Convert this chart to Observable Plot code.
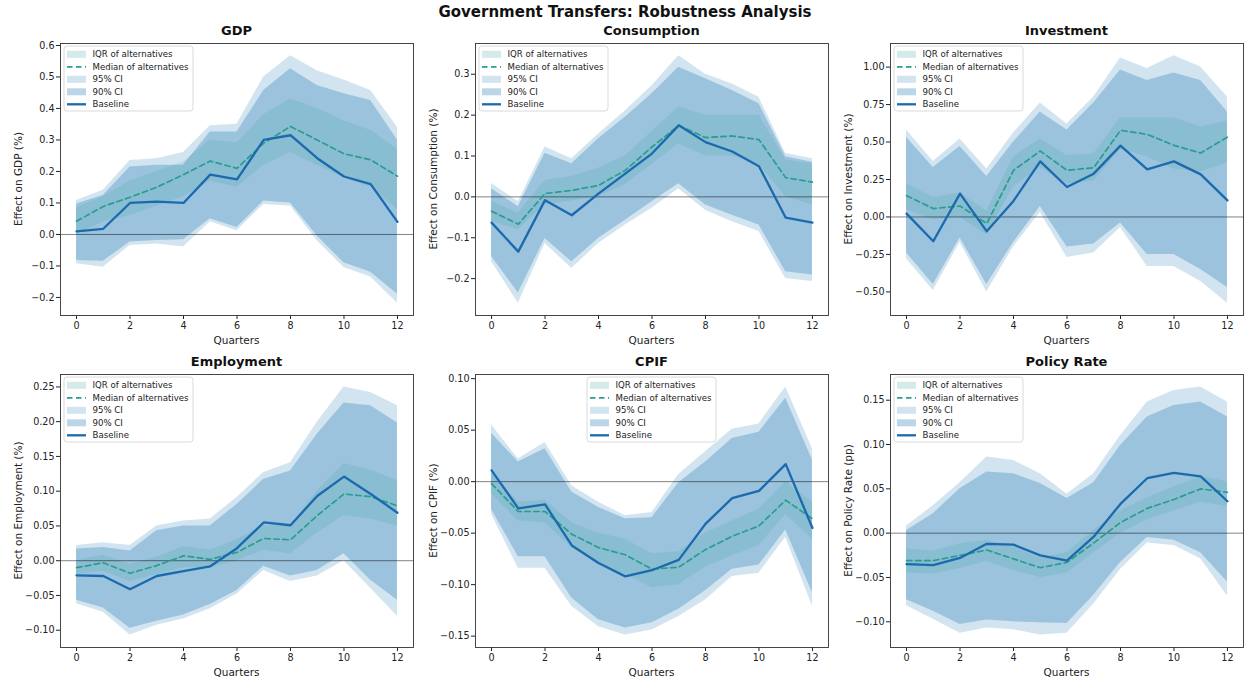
<!DOCTYPE html>
<html>
<head>
<meta charset="utf-8">
<script src="https://cdn.jsdelivr.net/npm/d3@7"></script>
<script src="https://cdn.jsdelivr.net/npm/@observablehq/plot@0.6"></script>
<style>
  body { margin: 0; background: #fff; font-family: "DejaVu Sans", sans-serif; }
  #fig { position: relative; width: 1245px; height: 680px; overflow: hidden; background: #fff; }
  #suptitle { position: absolute; left: 0; top: 3px; width: 1250px; text-align: center;
              font: bold 15px "DejaVu Sans", sans-serif; line-height: 18px; color: #111; }
  .panel { position: absolute; }
  .panel svg { overflow: visible; }
</style>
</head>
<body>
<div id="fig"><div id="suptitle">Government Transfers: Robustness Analysis</div></div>
<script>
// Impulse responses to a government-transfer shock, quarters 0..12
const quarters = [0, 1, 2, 3, 4, 5, 6, 7, 8, 9, 10, 11, 12];
const panelTitles = ["GDP", "Consumption", "Investment", "Employment", "CPIF", "Policy Rate"];
const yLabels = ["Effect on GDP (%)", "Effect on Consumption (%)", "Effect on Investment (%)",
                 "Effect on Employment (%)", "Effect on CPIF (%)", "Effect on Policy Rate (pp)"];
const legendLabels = ["IQR of alternatives", "Median of alternatives", "95% CI", "90% CI", "Baseline"];
const xTicks = [0, 2, 4, 6, 8, 10, 12];
const yTicks = [
  [-0.2, -0.1, 0.0, 0.1, 0.2, 0.3, 0.4, 0.5, 0.6],
  [-0.2, -0.1, 0.0, 0.1, 0.2, 0.3],
  [-0.5, -0.25, 0.0, 0.25, 0.5, 0.75, 1.0],
  [-0.10, -0.05, 0.0, 0.05, 0.10, 0.15, 0.20, 0.25],
  [-0.15, -0.10, -0.05, 0.0, 0.05, 0.10],
  [-0.10, -0.05, 0.0, 0.05, 0.10, 0.15]
];
const yTickFormats = [".1f", ".1f", ".2f", ".2f", ".2f", ".2f"];

// Baseline point estimate (one row per panel)
const baseline = [
  [0.01, 0.018, 0.10, 0.104, 0.10, 0.19, 0.175, 0.30, 0.315, 0.242, 0.184, 0.16, 0.04],
  [-0.063, -0.134, -0.008, -0.045, 0.008, 0.057, 0.106, 0.175, 0.134, 0.111, 0.075, -0.051, -0.063],
  [0.022, -0.162, 0.156, -0.096, 0.107, 0.371, 0.2, 0.289, 0.476, 0.318, 0.371, 0.284, 0.111],
  [-0.021, -0.022, -0.041, -0.022, -0.015, -0.008, 0.018, 0.055, 0.051, 0.093, 0.121, 0.096, 0.069],
  [0.011, -0.026, -0.022, -0.062, -0.079, -0.092, -0.086, -0.076, -0.041, -0.016, -0.009, 0.017, -0.045],
  [-0.035, -0.036, -0.028, -0.012, -0.013, -0.025, -0.031, -0.004, 0.033, 0.062, 0.068, 0.064, 0.036]
];
// Median across alternative specifications
const median = [
  [0.042, 0.089, 0.118, 0.15, 0.19, 0.233, 0.21, 0.29, 0.343, 0.30, 0.256, 0.237, 0.185],
  [-0.035, -0.067, 0.008, 0.016, 0.028, 0.065, 0.122, 0.175, 0.145, 0.149, 0.14, 0.047, 0.036],
  [0.142, 0.056, 0.073, -0.044, 0.311, 0.44, 0.311, 0.329, 0.578, 0.551, 0.478, 0.427, 0.533],
  [-0.01, -0.003, -0.018, -0.007, 0.007, 0.002, 0.012, 0.032, 0.03, 0.065, 0.096, 0.092, 0.079],
  [-0.002, -0.029, -0.029, -0.051, -0.064, -0.071, -0.085, -0.083, -0.066, -0.053, -0.043, -0.018, -0.036],
  [-0.031, -0.031, -0.025, -0.019, -0.029, -0.039, -0.033, -0.011, 0.012, 0.028, 0.038, 0.05, 0.046]
];
// Interquartile range across alternatives
const iqrLow = [
  [0.0, 0.04, 0.06, 0.09, 0.12, 0.17, 0.15, 0.22, 0.26, 0.22, 0.18, 0.15, 0.08],
  [-0.06, -0.08, -0.02, -0.01, 0.0, 0.03, 0.08, 0.13, 0.1, 0.1, 0.08, 0.0, -0.02],
  [0.05, -0.02, 0.0, -0.12, 0.2, 0.33, 0.22, 0.24, 0.45, 0.4, 0.32, 0.3, 0.36],
  [-0.02, -0.015, -0.03, -0.02, -0.01, -0.01, 0.0, 0.015, 0.01, 0.04, 0.065, 0.06, 0.05],
  [-0.012, -0.038, -0.04, -0.064, -0.08, -0.09, -0.103, -0.1, -0.083, -0.072, -0.062, -0.032, -0.056],
  [-0.045, -0.046, -0.04, -0.032, -0.042, -0.05, -0.045, -0.022, 0.0, 0.015, 0.025, 0.035, 0.03]
];
const iqrHigh = [
  [0.085, 0.12, 0.17, 0.2, 0.23, 0.3, 0.29, 0.38, 0.43, 0.4, 0.36, 0.33, 0.27],
  [-0.01, -0.04, 0.04, 0.05, 0.07, 0.1, 0.16, 0.22, 0.2, 0.2, 0.2, 0.09, 0.08],
  [0.22, 0.13, 0.16, 0.04, 0.4, 0.52, 0.41, 0.42, 0.66, 0.66, 0.66, 0.6, 0.64],
  [0.0, 0.008, -0.005, 0.005, 0.02, 0.015, 0.03, 0.05, 0.05, 0.1, 0.14, 0.13, 0.115],
  [0.008, -0.02, -0.018, -0.04, -0.05, -0.056, -0.07, -0.068, -0.05, -0.038, -0.027, 0.0, -0.02],
  [-0.018, -0.02, -0.012, -0.008, -0.016, -0.028, -0.022, 0.003, 0.025, 0.04, 0.052, 0.064, 0.058]
];
// 90% confidence band around the baseline
const ci90Low = [
  [-0.083, -0.085, -0.024, -0.019, -0.017, 0.05, 0.022, 0.106, 0.1, -0.005, -0.09, -0.12, -0.19],
  [-0.146, -0.235, -0.102, -0.159, -0.102, -0.057, -0.012, 0.032, -0.02, -0.045, -0.069, -0.183, -0.191],
  [-0.24, -0.45, -0.14, -0.45, -0.17, 0.07, -0.2, -0.18, -0.04, -0.25, -0.25, -0.35, -0.47],
  [-0.057, -0.068, -0.097, -0.087, -0.078, -0.063, -0.043, -0.008, -0.022, -0.014, 0.01, -0.028, -0.057],
  [-0.027, -0.073, -0.073, -0.113, -0.134, -0.142, -0.137, -0.124, -0.106, -0.085, -0.081, -0.047, -0.108],
  [-0.075, -0.088, -0.103, -0.098, -0.1, -0.101, -0.102, -0.07, -0.033, -0.005, -0.008, -0.022, -0.055]
];
const ci90High = [
  [0.097, 0.124, 0.214, 0.22, 0.22, 0.325, 0.325, 0.457, 0.526, 0.473, 0.447, 0.425, 0.30],
  [0.02, -0.024, 0.107, 0.081, 0.142, 0.195, 0.252, 0.317, 0.289, 0.26, 0.228, 0.098, 0.085],
  [0.53, 0.33, 0.47, 0.27, 0.5, 0.7, 0.58, 0.76, 0.98, 0.91, 0.96, 0.91, 0.7],
  [0.017, 0.019, 0.014, 0.043, 0.05, 0.05, 0.081, 0.117, 0.129, 0.182, 0.227, 0.223, 0.198],
  [0.047, 0.019, 0.032, -0.01, -0.025, -0.036, -0.035, -0.001, 0.019, 0.042, 0.048, 0.081, 0.021],
  [0.003, 0.022, 0.05, 0.069, 0.067, 0.056, 0.039, 0.057, 0.099, 0.131, 0.144, 0.148, 0.131]
];
// 95% confidence band around the baseline
const ci95Low = [
  [-0.093, -0.104, -0.035, -0.03, -0.04, 0.04, 0.012, 0.095, 0.09, -0.02, -0.105, -0.135, -0.218],
  [-0.159, -0.26, -0.114, -0.175, -0.114, -0.069, -0.028, 0.02, -0.033, -0.061, -0.085, -0.2, -0.207],
  [-0.28, -0.49, -0.17, -0.5, -0.2, 0.03, -0.27, -0.24, -0.07, -0.33, -0.33, -0.43, -0.575],
  [-0.062, -0.074, -0.107, -0.093, -0.084, -0.069, -0.048, -0.014, -0.03, -0.022, 0.0, -0.04, -0.08],
  [-0.032, -0.084, -0.084, -0.121, -0.141, -0.149, -0.144, -0.131, -0.115, -0.092, -0.089, -0.054, -0.121],
  [-0.082, -0.097, -0.113, -0.107, -0.109, -0.115, -0.113, -0.08, -0.041, -0.011, -0.014, -0.029, -0.071]
];
const ci95High = [
  [0.108, 0.14, 0.235, 0.24, 0.26, 0.345, 0.35, 0.5, 0.567, 0.52, 0.49, 0.457, 0.34],
  [0.033, -0.012, 0.122, 0.093, 0.154, 0.21, 0.272, 0.345, 0.30, 0.276, 0.244, 0.106, 0.093],
  [0.58, 0.37, 0.52, 0.32, 0.56, 0.76, 0.62, 0.8, 1.06, 0.99, 1.075, 1.0, 0.8],
  [0.022, 0.026, 0.022, 0.05, 0.057, 0.06, 0.091, 0.127, 0.141, 0.199, 0.25, 0.242, 0.223],
  [0.055, 0.022, 0.038, -0.004, -0.02, -0.033, -0.03, 0.007, 0.029, 0.051, 0.056, 0.092, 0.032],
  [0.008, 0.031, 0.057, 0.086, 0.082, 0.067, 0.044, 0.067, 0.11, 0.148, 0.161, 0.165, 0.148]
];

// Colours
const BLUE = "#1f77b4";
const LINE_BLUE = "#1b6aae";
const TEAL = "#2a9d8f";

// Grid layout (pixels)
const PANEL_W = 415;
const colLeft = [0, 415, 830];
const rowTop = [20, 345];
const rowHeight = [325, 335];
const rowMarginTop = [23, 29];
const rowMarginBottom = [30, 33];
const MARGIN_L = 60, MARGIN_R = 2;

const fig = document.getElementById("fig");

panelTitles.forEach((title, i) => {
  const col = i % 3, row = Math.floor(i / 3);
  const rows = quarters.map((q, k) => ({
    q,
    base: baseline[i][k], med: median[i][k],
    iqrLo: iqrLow[i][k], iqrHi: iqrHigh[i][k],
    lo90: ci90Low[i][k], hi90: ci90High[i][k],
    lo95: ci95Low[i][k], hi95: ci95High[i][k]
  }));
  // autoscale with a 5% margin on each side
  const all = rows.flatMap(d => [d.base, d.med, d.iqrLo, d.iqrHi, d.lo90, d.hi90, d.lo95, d.hi95]);
  const [mn, mx] = d3.extent(all);
  const pad = (mx - mn) * 0.05;
  const xPad = (quarters[quarters.length - 1] - quarters[0]) * 0.05;

  const H = rowHeight[row], mt = rowMarginTop[row], mb = rowMarginBottom[row];
  const svg = Plot.plot({
    width: PANEL_W,
    height: H,
    marginLeft: MARGIN_L,
    marginRight: MARGIN_R,
    marginTop: mt,
    marginBottom: mb,
    style: { fontFamily: "DejaVu Sans", fontSize: "9.6px", color: "#222", background: "transparent" },
    x: { domain: [quarters[0] - xPad, quarters[quarters.length - 1] + xPad], ticks: xTicks,
         tickFormat: d3.format("d"), tickSize: 4, tickPadding: 3, label: null },
    y: { domain: [mn - pad, mx + pad], ticks: yTicks[i], tickFormat: d3.format(yTickFormats[i]),
         tickSize: 4, tickPadding: 2, label: null },
    marks: [
      Plot.areaY(rows, { x: "q", y1: "lo95", y2: "hi95", fill: BLUE, fillOpacity: 0.2 }),
      Plot.areaY(rows, { x: "q", y1: "lo90", y2: "hi90", fill: BLUE, fillOpacity: 0.3 }),
      Plot.areaY(rows, { x: "q", y1: "iqrLo", y2: "iqrHi", fill: TEAL, fillOpacity: 0.15 }),
      Plot.ruleY([0], { stroke: "#000", strokeOpacity: 0.55, strokeWidth: 0.9 }),
      Plot.lineY(rows, { x: "q", y: "med", stroke: TEAL, strokeWidth: 1.7, strokeDasharray: "5.5,3.5" }),
      Plot.lineY(rows, { x: "q", y: "base", stroke: LINE_BLUE, strokeWidth: 2.3 }),
      Plot.frame({ stroke: "#333", strokeWidth: 0.9 })
    ]
  });

  const s = d3.select(svg);
  const frameW = PANEL_W - MARGIN_L - MARGIN_R;
  const frameH = H - mt - mb;
  const cx = MARGIN_L + frameW / 2;

  // panel title
  s.append("text")
    .attr("x", cx).attr("y", mt - 12.5)
    .attr("text-anchor", "middle").attr("dominant-baseline", "central")
    .attr("font-family", "DejaVu Sans").attr("font-weight", "bold").attr("font-size", 13)
    .attr("fill", "#111").text(title);

  // axis labels
  s.append("text")
    .attr("x", cx).attr("y", H - mb + 24.5)
    .attr("text-anchor", "middle").attr("dominant-baseline", "central")
    .attr("font-family", "DejaVu Sans").attr("font-size", 10.5).attr("fill", "#222")
    .text("Quarters");
  s.append("text")
    .attr("transform", `translate(18,${mt + frameH / 2}) rotate(-90)`)
    .attr("text-anchor", "middle").attr("dominant-baseline", "central")
    .attr("font-family", "DejaVu Sans").attr("font-size", 10.5).attr("fill", "#222")
    .text(yLabels[i]);

  // legend: upper left, except CPIF which sits upper centre
  const LW = 129, LH = 65;
  const lx = title === "CPIF" ? cx - LW / 2 : MARGIN_L + 4;
  const ly = mt + 3;
  const g = s.append("g").attr("transform", `translate(${lx},${ly})`).attr("text-anchor", "start");
  g.append("rect").attr("width", LW).attr("height", LH).attr("rx", 3)
    .attr("fill", "#fff").attr("fill-opacity", 0.8).attr("stroke", "#d0d0d0").attr("stroke-width", 0.8);
  legendLabels.forEach((lab, r) => {
    const y = 8.3 + r * 12.5;
    if (r === 0) {
      g.append("rect").attr("x", 3).attr("y", y - 3.5).attr("width", 19).attr("height", 7)
        .attr("fill", TEAL).attr("fill-opacity", 0.2);
    } else if (r === 1) {
      g.append("line").attr("x1", 3).attr("x2", 22).attr("y1", y).attr("y2", y)
        .attr("stroke", TEAL).attr("stroke-width", 1.7).attr("stroke-dasharray", "5.5,3.5");
    } else if (r === 2) {
      g.append("rect").attr("x", 3).attr("y", y - 3.5).attr("width", 19).attr("height", 7)
        .attr("fill", BLUE).attr("fill-opacity", 0.2);
    } else if (r === 3) {
      g.append("rect").attr("x", 3).attr("y", y - 3.5).attr("width", 19).attr("height", 7)
        .attr("fill", BLUE).attr("fill-opacity", 0.3);
    } else {
      g.append("line").attr("x1", 3).attr("x2", 22).attr("y1", y).attr("y2", y)
        .attr("stroke", LINE_BLUE).attr("stroke-width", 2.3);
    }
    g.append("text").attr("x", 28.5).attr("y", y)
      .attr("text-anchor", "start").attr("dominant-baseline", "central")
      .attr("font-family", "DejaVu Sans").attr("font-size", 8.6).attr("fill", "#222")
      .text(lab);
  });

  const holder = document.createElement("div");
  holder.className = "panel";
  holder.style.left = colLeft[col] + "px";
  holder.style.top = rowTop[row] + "px";
  holder.appendChild(svg);
  fig.appendChild(holder);
});
</script>
</body>
</html>
